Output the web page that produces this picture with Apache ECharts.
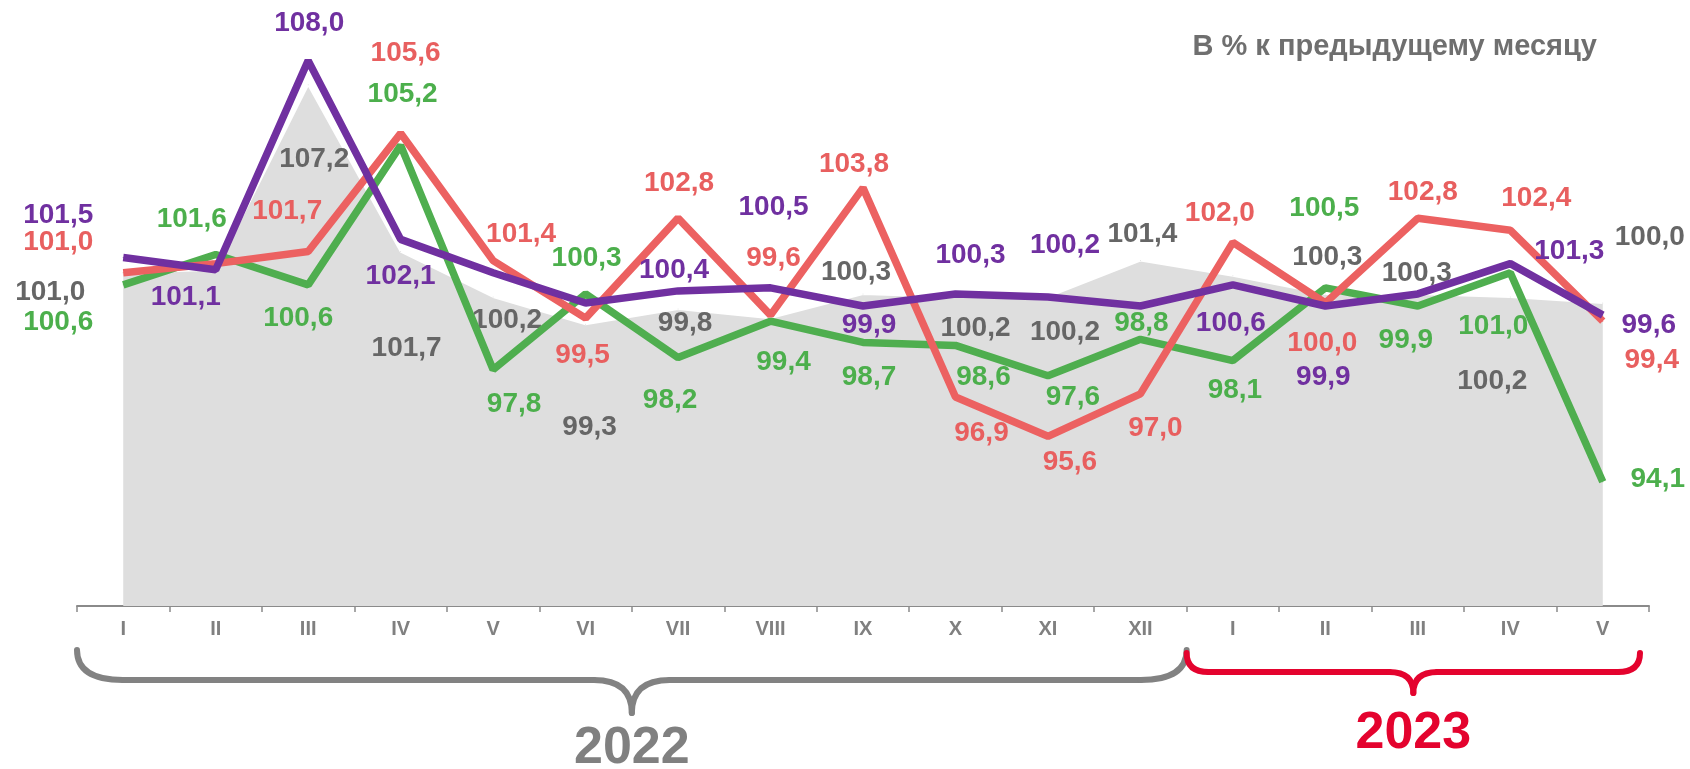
<!DOCTYPE html>
<html>
<head>
<meta charset="utf-8">
<script src="https://cdn.jsdelivr.net/npm/echarts@6/dist/echarts.min.js"></script>
<style>
    html, body { margin: 0; padding: 0; background: #fff; }
    #chart { width: 1690px; height: 769px; }
</style>
</head>
<body>
<div id="chart"></div>
<script>
//////////////////////////////////////////////////////////////////
// [ Data ]

const months = ['I', 'II', 'III', 'IV', 'V', 'VI', 'VII', 'VIII', 'IX', 'X', 'XI', 'XII', 'I', 'II', 'III', 'IV', 'V'];
const years = ['2022', '2023'];

const grayValues = [101.0, 101.1, 107.2, 101.7, 100.2, 99.3, 99.8, 99.5, 100.3, 100.2, 100.2, 101.4, 100.9, 100.3, 100.3, 100.2, 100.0];
const redValues = [101.0, 101.3, 101.7, 105.6, 101.4, 99.5, 102.8, 99.6, 103.8, 96.9, 95.6, 97.0, 102.0, 100.0, 102.8, 102.4, 99.4];
const greenValues = [100.6, 101.6, 100.6, 105.2, 97.8, 100.3, 98.2, 99.4, 98.7, 98.6, 97.6, 98.8, 98.1, 100.5, 99.9, 101.0, 94.1];
const purpleValues = [101.5, 101.1, 108.0, 102.1, 101.0, 100.0, 100.4, 100.5, 99.9, 100.3, 100.2, 99.9, 100.6, 99.9, 100.3, 101.3, 99.6];

//////////////////////////////////////////////////////////////////
// [ Label placement, px from the point; null = no label ]

const grayLabelPos = [[-73, 20], null, [6, 74], [6, 97], [14, 23], [4, 103], [7, 14], null, [-7, -22], [20, 31], [17, 35], [2, -26], null, [2, -37], [-1, -21], [-18, 84], [47, -66]];
const redLabelPos = [[-65, -30], null, [-21, -40], [5, -80], [28, -26], [-3, 37], [1, -35], [3, -57], [-9, -24], [26, 36], [22, 26], [15, 34], [-13, -29], [-3, 40], [5, -26], [26, -32], [49, 39]];
const greenLabelPos = [[-65, 37], [-24, -35], [-10, 33], [2, -51], [21, 35], [1, -36], [-8, 43], [13, 41], [6, 35], [28, 32], [25, 22], [1, -16], [2, 30], [-1, -80], [-12, 34], [-17, 54], [55, -2]];
const purpleLabelPos = [[-65, -42], [-30, 28], [1, -37], [0, 37], null, null, [-4, -21], [3, -81], [6, 19], [15, -39], [17, -52], null, [-2, 38], [-2, 71], null, [59, -12], [46, 10]];

const FONT = "'Liberation Sans', Arial, sans-serif";

function fmt(v) {
    return v.toFixed(1).replace('.', ',');
}

function makeData(values, positions) {
    return values.map(function (v, i) {
        return {
            value: v,
            label: positions[i] ? { show: true, offset: positions[i] } : { show: false }
        };
    });
}

function labelStyle(color) {
    return {
        position: 'inside',
        formatter: p => fmt(p.value),
        color: color,
        fontSize: 28,
        fontWeight: 'bold',
        fontFamily: FONT,
        align: 'center',
        verticalAlign: 'middle'
    };
}

function lineSeries(name, values, positions, color, labelColor, z) {
    return {
        name: name,
        type: 'line',
        z: z,
        data: makeData(values, positions),
        symbol: 'circle',
        symbolSize: 1,
        showSymbol: true,
        itemStyle: { color: color },
        lineStyle: { color: color, width: 7.5 },
        label: labelStyle(labelColor),
        emphasis: { disabled: true }
    };
}

//////////////////////////////////////////////////////////////////
// [ Chart ]

const chart = echarts.init(document.getElementById('chart'));

chart.setOption({
    animation: false,
    backgroundColor: '#fff',
    title: {
        text: 'В % к предыдущему месяцу',
        right: 88,
        top: 27,
        textStyle: { color: '#6f6f6f', fontSize: 29, fontWeight: 'bold', fontFamily: FONT }
    },
    grid: { left: 77, right: 41, top: 0, bottom: 163 },
    xAxis: {
        type: 'category',
        data: months,
        boundaryGap: true,
        axisLine: { lineStyle: { color: '#8a8a8a', width: 2 } },
        axisTick: { show: true, interval: 0, length: 6, lineStyle: { color: '#8a8a8a', width: 1.5 } },
        axisLabel: {
            interval: 0,
            margin: 13,
            color: '#808080',
            fontSize: 20,
            fontWeight: 'bold',
            fontFamily: FONT
        }
    },
    yAxis: {
        type: 'value',
        min: 90,
        max: 110,
        show: false,
        splitLine: { show: false }
    },
    series: [
        {
            name: 'gray',
            type: 'line',
            z: 1,
            data: makeData(grayValues, grayLabelPos),
            symbol: 'circle',
            symbolSize: 1,
            itemStyle: { color: '#dedede' },
            lineStyle: { color: '#ffffff', width: 2 },
            areaStyle: { color: '#dedede', opacity: 1, origin: 'start' },
            label: labelStyle('#666666'),
            emphasis: { disabled: true }
        },
        lineSeries('green', greenValues, greenLabelPos, '#4fae4f', '#4caf4c', 2),
        lineSeries('red', redValues, redLabelPos, '#ec6161', '#e85f5f', 3),
        lineSeries('purple', purpleValues, purpleLabelPos, '#7030a0', '#7030a0', 4)
    ]
});

//////////////////////////////////////////////////////////////////
// [ Year braces under the axis ]

function brace(x0, x1, yTop, yLine, yTip, r, rt, color) {
    const xm = (x0 + x1) / 2;
    const style = { stroke: color, lineWidth: 6, fill: null, lineCap: 'round' };
    const curve = (ax, ay, cx, cy, bx, by) => ({
        type: 'bezierCurve',
        shape: { x1: ax, y1: ay, cpx1: cx, cpy1: cy, x2: bx, y2: by },
        style: style
    });
    const line = (ax, bx) => ({
        type: 'line',
        shape: { x1: ax, y1: yLine, x2: bx, y2: yLine },
        style: style
    });
    return [
        curve(x0, yTop, x0, yLine, x0 + r, yLine),
        line(x0 + r, xm - rt),
        curve(xm - rt, yLine, xm, yLine, xm, yTip),
        curve(xm, yTip, xm, yLine, xm + rt, yLine),
        line(xm + rt, x1 - r),
        curve(x1 - r, yLine, x1, yLine, x1, yTop)
    ];
}

const xAt = i => chart.convertToPixel({ xAxisIndex: 0 }, i);
const band = xAt(1) - xAt(0);
const b0 = xAt(0) - band / 2;
const b1 = xAt(11) + band / 2;
const b2 = xAt(months.length - 1) + band / 2 - 9;

chart.setOption({
    graphic: [].concat(
        brace(b0, b1, 650, 680, 713, 46, 38, '#828282'),
        brace(b1, b2, 653, 672, 693, 22, 24, '#e4032e'),
        [
            {
                type: 'text',
                x: (b0 + b1) / 2,
                y: 749,
                style: { text: years[0], fill: '#808080', fontSize: 52, fontWeight: 'bold', fontFamily: FONT, align: 'center', verticalAlign: 'middle' }
            },
            {
                type: 'text',
                x: (b1 + b2) / 2,
                y: 734,
                style: { text: years[1], fill: '#e4032e', fontSize: 52, fontWeight: 'bold', fontFamily: FONT, align: 'center', verticalAlign: 'middle' }
            }
        ]
    )
});
</script>
</body>
</html>
